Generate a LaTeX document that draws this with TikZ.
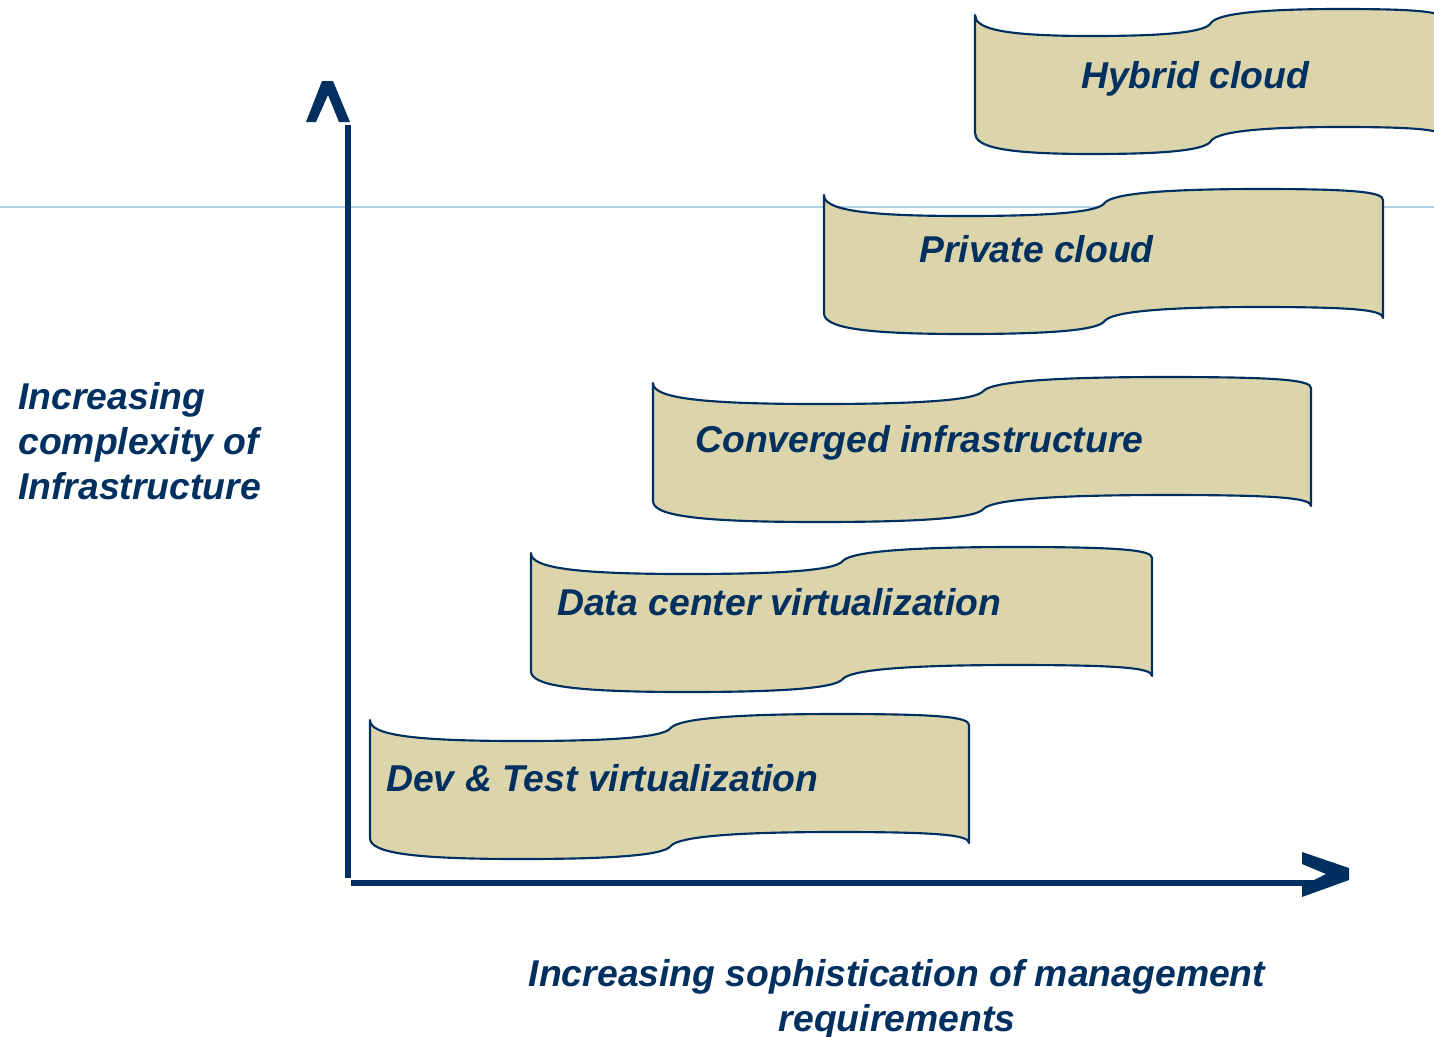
\documentclass[tikz,border=0pt]{standalone}
\usepackage{fontspec}
\setmainfont{Liberation Sans}
\usepackage{tikz}
\definecolor{navy}{HTML}{00305F}
\definecolor{tapefill}{HTML}{DCD5AB}
\definecolor{guideblue}{HTML}{B4CDEB}
\tikzset{
  tape/.style={draw=navy, fill=tapefill, line width=1.6pt, line join=round},
  tapetext/.style={text=navy, inner sep=0pt, anchor=base west,
    font=\fontsize{28}{33.75}\selectfont\bfseries\itshape},
  axistext/.style={text=navy, inner sep=0pt,
    font=\fontsize{28}{33.75}\selectfont\bfseries\itshape},
  axis/.style={draw=navy, line width=4.5pt},
}

\begin{document}
\begin{tikzpicture}[x=0.75pt, y=-0.75pt]
\clip (0,0) rectangle (1434,1036);
\fill[white] (0,0) rectangle (1434,1036);

% thin guide line
\coordinate (gl) at (0,207);
\coordinate (gr) at (1434,207);
\draw[guideblue, line width=1.1pt] (gl) -- (gr);

% tapes: left / top / width
\foreach \L/\T/\W in {370/720/599, 531/553/621, 653/383/658, 824/195/559, 975/15/470}{
  \begin{scope}[shift={(\L,\T)}, xscale=\W]
    \path[tape] (0,0) .. controls (0,14) and (0.06,21) .. (0.25,21)
      .. controls (0.39,21) and (0.49,18) .. (0.502,8)
      .. controls (0.515,-1) and (0.6,-6) .. (0.78,-6)
      .. controls (0.95,-6) and (1,-3) .. (1,5)
      -- (1,123)
      .. controls (1,115) and (0.95,112) .. (0.78,112)
      .. controls (0.6,112) and (0.515,117) .. (0.502,126)
      .. controls (0.49,136) and (0.39,139) .. (0.25,139)
      .. controls (0.06,139) and (0,132) .. (0,118)
      -- cycle;
  \end{scope}
}

\begin{scope}[every node/.style={tapetext}]
  \node (hybrid) at (1081,88) {Hybrid cloud};
  \node (private) at (919,262) {Private cloud};
  \node (converged) at (695,452) {Converged infrastructure};
  \node (datacenter) at (557,615) {Data center virtualization};
  \node (devtest) at (386,791) {Dev \& Test virtualization};
\end{scope}

% axes
\coordinate (ytop) at (348,125);
\coordinate (yfoot) at (348,878);
\coordinate (xstart) at (351,883);
\coordinate (xend) at (1322,883);
\coordinate (uptip) at (328,81);
\coordinate (righttip) at (1349,874);
\draw[axis] (yfoot) -- (ytop);
\draw[axis] (xstart) -- (xend);
\fill[navy] (uptip) ++(-6,0) -- ++(11,0) -- ++(17,41) -- ++(-11,0)
  -- ++(-11,-27) -- ++(-12,27) -- ++(-10,0) -- cycle;
\fill[navy] (righttip) ++(-47,-22) -- ++(47,16) -- ++(0,12) -- ++(-47,17)
  -- ++(0,-11) -- ++(24,-12) -- ++(-24,-10) -- cycle;

\node[axistext, align=left, anchor=west] (vlabel) at (18,441)
  {Increasing\\complexity of\\Infrastructure};
\node[axistext, align=center] (hlabel) at (897,999)
  {Increasing sophistication of management\\requirements};
\end{tikzpicture}
\end{document}
